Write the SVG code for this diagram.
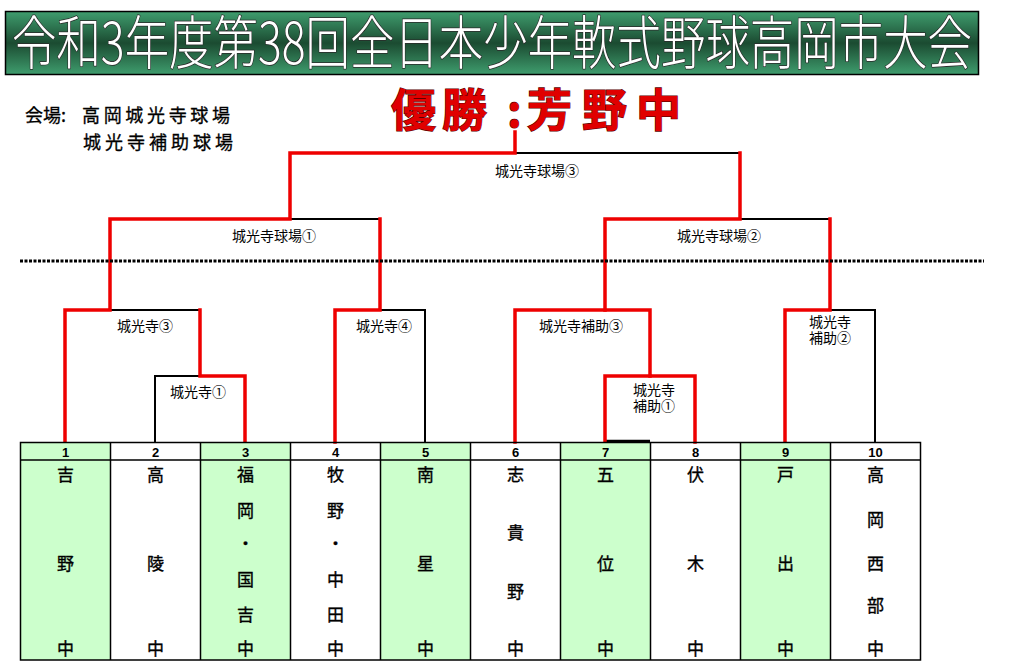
<svg xmlns="http://www.w3.org/2000/svg" width="1011" height="672" viewBox="0 0 1011 672">
<defs>
<linearGradient id="tg" x1="0" y1="0" x2="0" y2="1">
<stop offset="0" stop-color="#3f9d6e"/>
<stop offset="0.5" stop-color="#1b4b31"/>
<stop offset="1" stop-color="#3f9d6e"/>
</linearGradient>
<style>
.jp{font-family:"Noto Sans CJK JP","Noto Sans CJK SC",sans-serif}
.lbl{font-size:14px;fill:#000}
.c{text-anchor:middle}
.nm{font-size:17px;fill:#000;stroke:#000;stroke-width:0.35;text-anchor:middle}
.num{font-family:"Liberation Sans",Arial,sans-serif;font-weight:bold;font-size:13px;text-anchor:middle}
.blk{fill:none;stroke:#000;stroke-width:2}
.red{fill:none;stroke:#ee0000;stroke-width:3.5;stroke-linejoin:miter;stroke-linecap:square}
.grid{fill:none;stroke:#000;stroke-width:1.5}
</style>
</defs>
<rect width="1011" height="672" fill="#fff"/>

<g id="title">
<rect x="5.5" y="11.5" width="973" height="63" fill="url(#tg)" stroke="#000" stroke-width="1.5"/>
<text class="jp" x="12" y="64" font-size="58" font-weight="300" textLength="960" lengthAdjust="spacingAndGlyphs" fill="#fff" stroke="#2a2a2a" stroke-width="1.5" paint-order="stroke" stroke-linejoin="round">令和3年度第38回全日本少年軟式野球高岡市大会</text>
</g>

<g id="venue">
<text class="jp" x="25" y="122" font-size="18" fill="#000" stroke="#000" stroke-width="0.3">会場:</text>
<text class="jp" x="82" y="122" font-size="18" textLength="148" lengthAdjust="spacing" fill="#000" stroke="#000" stroke-width="0.3">高岡城光寺球場</text>
<text class="jp" x="83" y="149" font-size="18" textLength="150" lengthAdjust="spacing" fill="#000" stroke="#000" stroke-width="0.3">城光寺補助球場</text>
</g>

<g id="winner">
<text class="jp" y="127" font-size="45" font-weight="bold" fill="#e00000" stroke="#5a0000" stroke-width="1.2" paint-order="stroke"><tspan x="391">優</tspan><tspan x="442">勝</tspan><tspan x="507">:</tspan><tspan x="527">芳</tspan><tspan x="582">野</tspan><tspan x="636">中</tspan></text>
</g>

<g id="connectors">
<path class="blk" d="M515,153 H740 M290,219 H380 M740,219 H830 M110,310 H200 M380,310 H425 V442 M830,310 H875 V442 M155,442 V376 H200"/>
<path d="M605,441 H650" stroke="#000" stroke-width="2.5"/>
<path class="red" d="M65,442 V310 H110 V219 H290 V153 H515 V132"/>
<path class="red" d="M245,442 V376 H200 V310"/>
<path class="red" d="M335,442 V310 H380 V219"/>
<path class="red" d="M515,442 V310 H650 V376 H695 V442"/>
<path class="red" d="M605,442 V376 H650"/>
<path class="red" d="M605,310 V219 H740 V153"/>
<path class="red" d="M785,442 V310 H830 V219"/>
<line x1="20" y1="261" x2="984" y2="261" stroke="#000" stroke-width="3" stroke-dasharray="3 1.5"/>
</g>

<g id="labels" class="jp lbl">
<text class="c" x="537" y="175.5">城光寺球場③</text>
<text class="c" x="274" y="240.5">城光寺球場①</text>
<text class="c" x="719" y="240.5">城光寺球場②</text>
<text class="c" x="145" y="331">城光寺③</text>
<text class="c" x="198" y="396.5">城光寺①</text>
<text class="c" x="384" y="330.5">城光寺④</text>
<text class="c" x="581" y="330.5">城光寺補助③</text>
<text x="633" y="394.5">城光寺</text>
<text x="633" y="411">補助①</text>
<text x="809" y="327">城光寺</text>
<text x="809" y="343">補助②</text>
</g>

<g id="table">
<rect x="20.5" y="442.5" width="90" height="217.5" fill="#ccffcc"/>
<rect x="200.5" y="442.5" width="90" height="217.5" fill="#ccffcc"/>
<rect x="380.5" y="442.5" width="90" height="217.5" fill="#ccffcc"/>
<rect x="560.5" y="442.5" width="90" height="217.5" fill="#ccffcc"/>
<rect x="740.5" y="442.5" width="90" height="217.5" fill="#ccffcc"/>
<path class="grid" d="M20.5,442.5 H920.5 V660 H20.5 Z M20.5,460 H920.5 M110.5,442.5 V660 M200.5,442.5 V660 M290.5,442.5 V660 M380.5,442.5 V660 M470.5,442.5 V660 M560.5,442.5 V660 M650.5,442.5 V660 M740.5,442.5 V660 M830.5,442.5 V660"/>
</g>

<g id="numbers">
<text class="num" x="65.5" y="456.5">1</text>
<text class="num" x="155.5" y="456.5">2</text>
<text class="num" x="245.5" y="456.5">3</text>
<text class="num" x="335.5" y="456.5">4</text>
<text class="num" x="425.5" y="456.5">5</text>
<text class="num" x="515.5" y="456.5">6</text>
<text class="num" x="605.5" y="456.5">7</text>
<text class="num" x="695.5" y="456.5">8</text>
<text class="num" x="785.5" y="456.5">9</text>
<text class="num" x="875.5" y="456.5">10</text>
</g>

<g id="team1" class="jp nm"><text x="65.5" y="480.5">吉</text><text x="65.5" y="569.5">野</text><text x="65.5" y="654.5">中</text></g>
<g id="team2" class="jp nm"><text x="155.5" y="480.5">高</text><text x="155.5" y="569.5">陵</text><text x="155.5" y="654.5">中</text></g>
<g id="team3" class="jp nm"><text x="245.5" y="480.5">福</text><text x="245.5" y="516.5">岡</text><text x="245.5" y="549.5">・</text><text x="245.5" y="585.5">国</text><text x="245.5" y="620.5">吉</text><text x="245.5" y="654.5">中</text></g>
<g id="team4" class="jp nm"><text x="335.5" y="480.5">牧</text><text x="335.5" y="516.5">野</text><text x="335.5" y="549.5">・</text><text x="335.5" y="585.5">中</text><text x="335.5" y="620.5">田</text><text x="335.5" y="654.5">中</text></g>
<g id="team5" class="jp nm"><text x="425.5" y="480.5">南</text><text x="425.5" y="569.5">星</text><text x="425.5" y="654.5">中</text></g>
<g id="team6" class="jp nm"><text x="515.5" y="480.5">志</text><text x="515.5" y="539">貴</text><text x="515.5" y="598">野</text><text x="515.5" y="654.5">中</text></g>
<g id="team7" class="jp nm"><text x="605.5" y="480.5">五</text><text x="605.5" y="569.5">位</text><text x="605.5" y="654.5">中</text></g>
<g id="team8" class="jp nm"><text x="695.5" y="480.5">伏</text><text x="695.5" y="569.5">木</text><text x="695.5" y="654.5">中</text></g>
<g id="team9" class="jp nm"><text x="785.5" y="480.5">戸</text><text x="785.5" y="569.5">出</text><text x="785.5" y="654.5">中</text></g>
<g id="team10" class="jp nm"><text x="875.5" y="480.5">高</text><text x="875.5" y="525.5">岡</text><text x="875.5" y="569.5">西</text><text x="875.5" y="612">部</text><text x="875.5" y="654.5">中</text></g>
</svg>
